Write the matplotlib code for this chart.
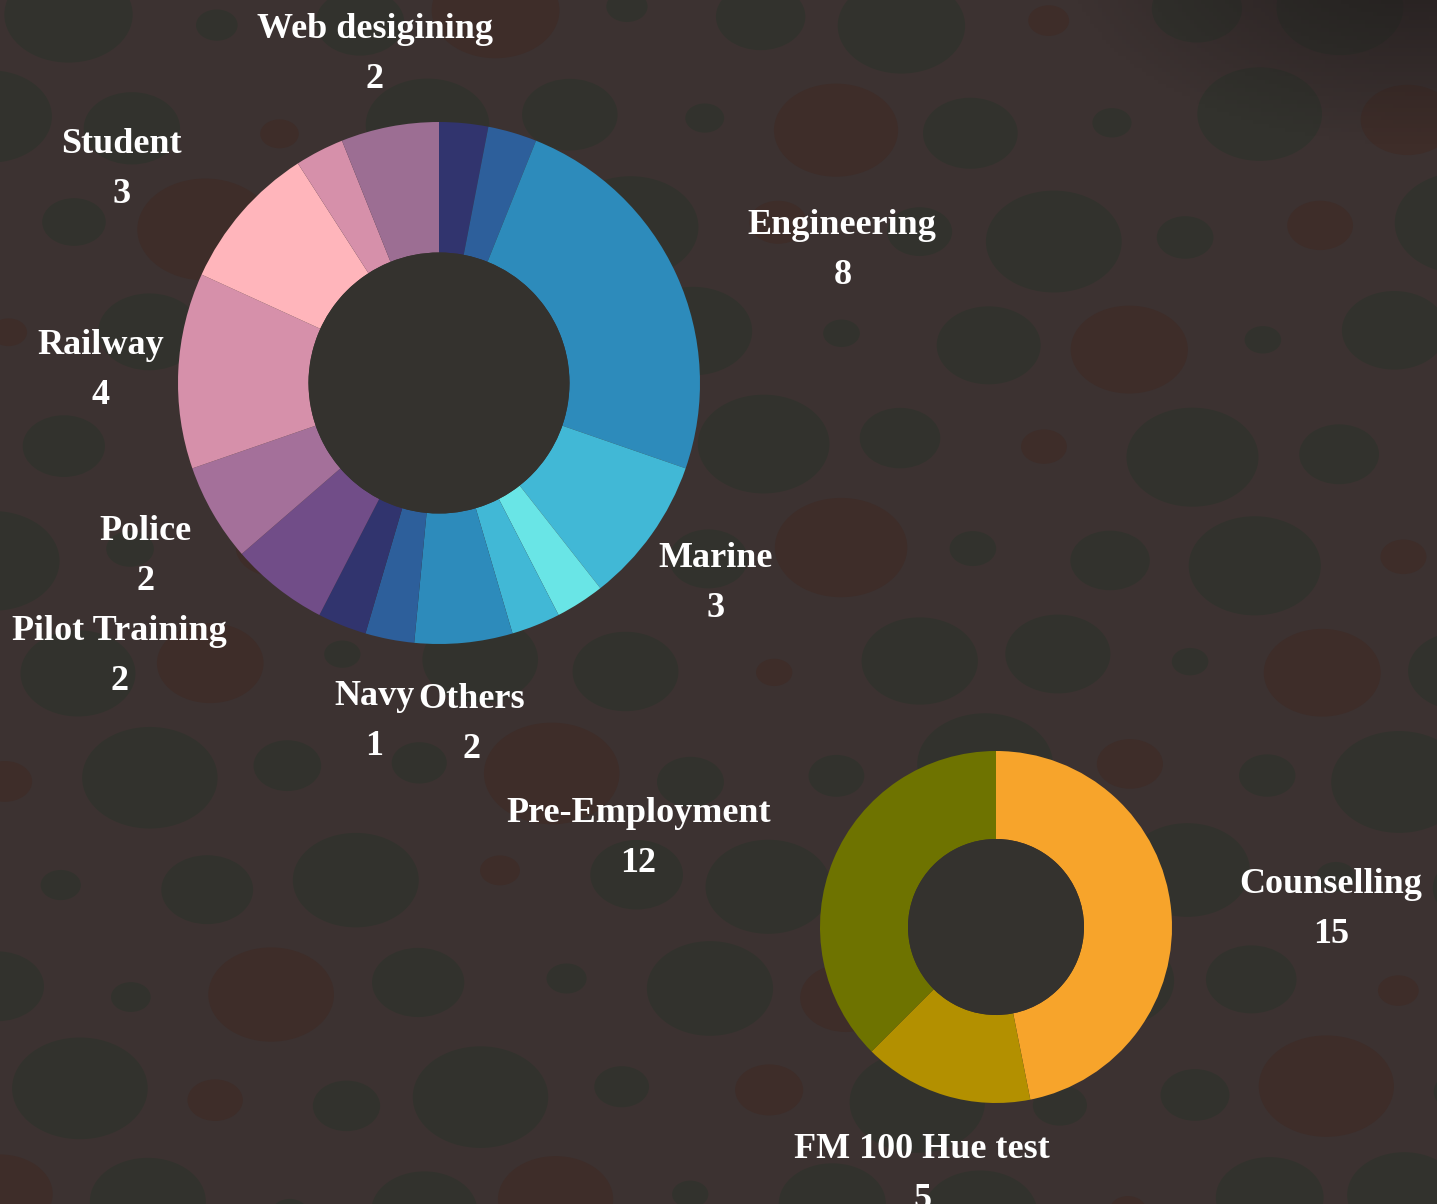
import numpy as np
import matplotlib
matplotlib.use("Agg")
import matplotlib.pyplot as plt
from matplotlib.patches import Circle, Ellipse

# big donut (clockwise from 12 o'clock); empty label = label not shown
big_labels = ["", "", "Engineering", "Marine", "", "", "Others", "", "Navy",
              "Pilot Training", "Police", "Railway", "Student", "", "Web desigining"]
big_values = [1, 1, 8, 3, 1, 1, 2, 1, 1, 2, 2, 4, 3, 1, 2]
big_colors = ["#31346e", "#2d5f9b", "#2d8bbb", "#41b8d6", "#69e5e6", "#41b8d6",
              "#2d8bbb", "#2d5f9b", "#31346e", "#714d88", "#a4709a", "#d690aa",
              "#ffb5bb", "#d690aa", "#9c6e93"]

small_labels = ["Counselling", "FM 100 Hue test", "Pre-Employment"]
small_values = [15, 5, 12]
small_colors = ["#f7a42b", "#b39000", "#6e7300"]

W, H = 1437, 1204
fig = plt.figure(figsize=(W / 100, H / 100), dpi=100)
ax = fig.add_axes([0, 0, 1, 1])
fig.patch.set_facecolor("#3c3231")

# background texture: dim ellipses, mostly dark green-grey, some brownish
for j in range(12):
    for i in range(11):
        cx = i * 140 + (70 if j % 2 else 0) + 10 * np.sin(j * 1.7 + i * 0.9)
        cy = j * 108 + 10 * np.cos(i * 1.3 + j * 0.7)
        a = 18 + 50 * (0.5 + 0.5 * np.sin(i * 2.1 + j * 1.3 + 0.4))
        col = "#3e2d29" if (i * 5 + j * 3) % 4 == 0 else "#32322d"
        ax.add_patch(Ellipse((cx, cy), 2 * a, 1.5 * a, color=col, zorder=0, lw=0))

# darker corner top right
yy, xx = np.mgrid[0:H:4, 0:W:4]
d = np.hypot((xx - 1420) / 320.0, (yy - (H + 40)) / 170.0)
shade = np.zeros(xx.shape + (4,))
shade[..., 0:3] = [0.13, 0.11, 0.11]
shade[..., 3] = np.clip(1.1 - d, 0, 1) * 0.8
ax.imshow(shade, extent=(0, W, 0, H), origin="lower", zorder=0.5, aspect="auto")


def donut(values, colors, labels, cx, cy, r, nudges):
    ax.pie(values, colors=colors, center=(cx, cy), radius=r, startangle=90,
           counterclock=False, wedgeprops=dict(width=r * 0.5, linewidth=0))
    ax.add_patch(Circle((cx, cy), r * 0.5, color="#34322e", zorder=1.5, lw=0))
    total = float(sum(values))
    cum = 0
    for v, lab in zip(values, labels):
        mid = np.radians((cum + v / 2) / total * 360)
        cum += v
        if not lab:
            continue
        R = r + 78
        x = cx + R * np.sin(mid)
        y = cy + R * np.cos(mid) - 4
        dx, dy = nudges.get(lab, (0, 0))
        x += dx
        y += dy
        kw = dict(ha="center", va="center", color="white", fontsize=26,
                  fontweight="bold", family="Liberation Serif", zorder=5)
        ax.text(x, y + 25, lab, **kw)
        ax.text(x, y - 25, str(v), **kw)


donut(big_values, big_colors, big_labels, 439, H - 383, 261,
      {"Engineering": (95, -4), "Student": (-61, -4), "Pilot Training": (-110, -3),
       "Navy": (61, -20)})
donut(small_values, small_colors, small_labels, 996, H - 927, 176,
      {"Counselling": (82, -3), "Pre-Employment": (-123, -5)})

ax.set_xlim(0, W)
ax.set_ylim(0, H)
ax.set_aspect("equal")
ax.axis("off")

fig.savefig("out.png", dpi=100, facecolor=fig.get_facecolor())
